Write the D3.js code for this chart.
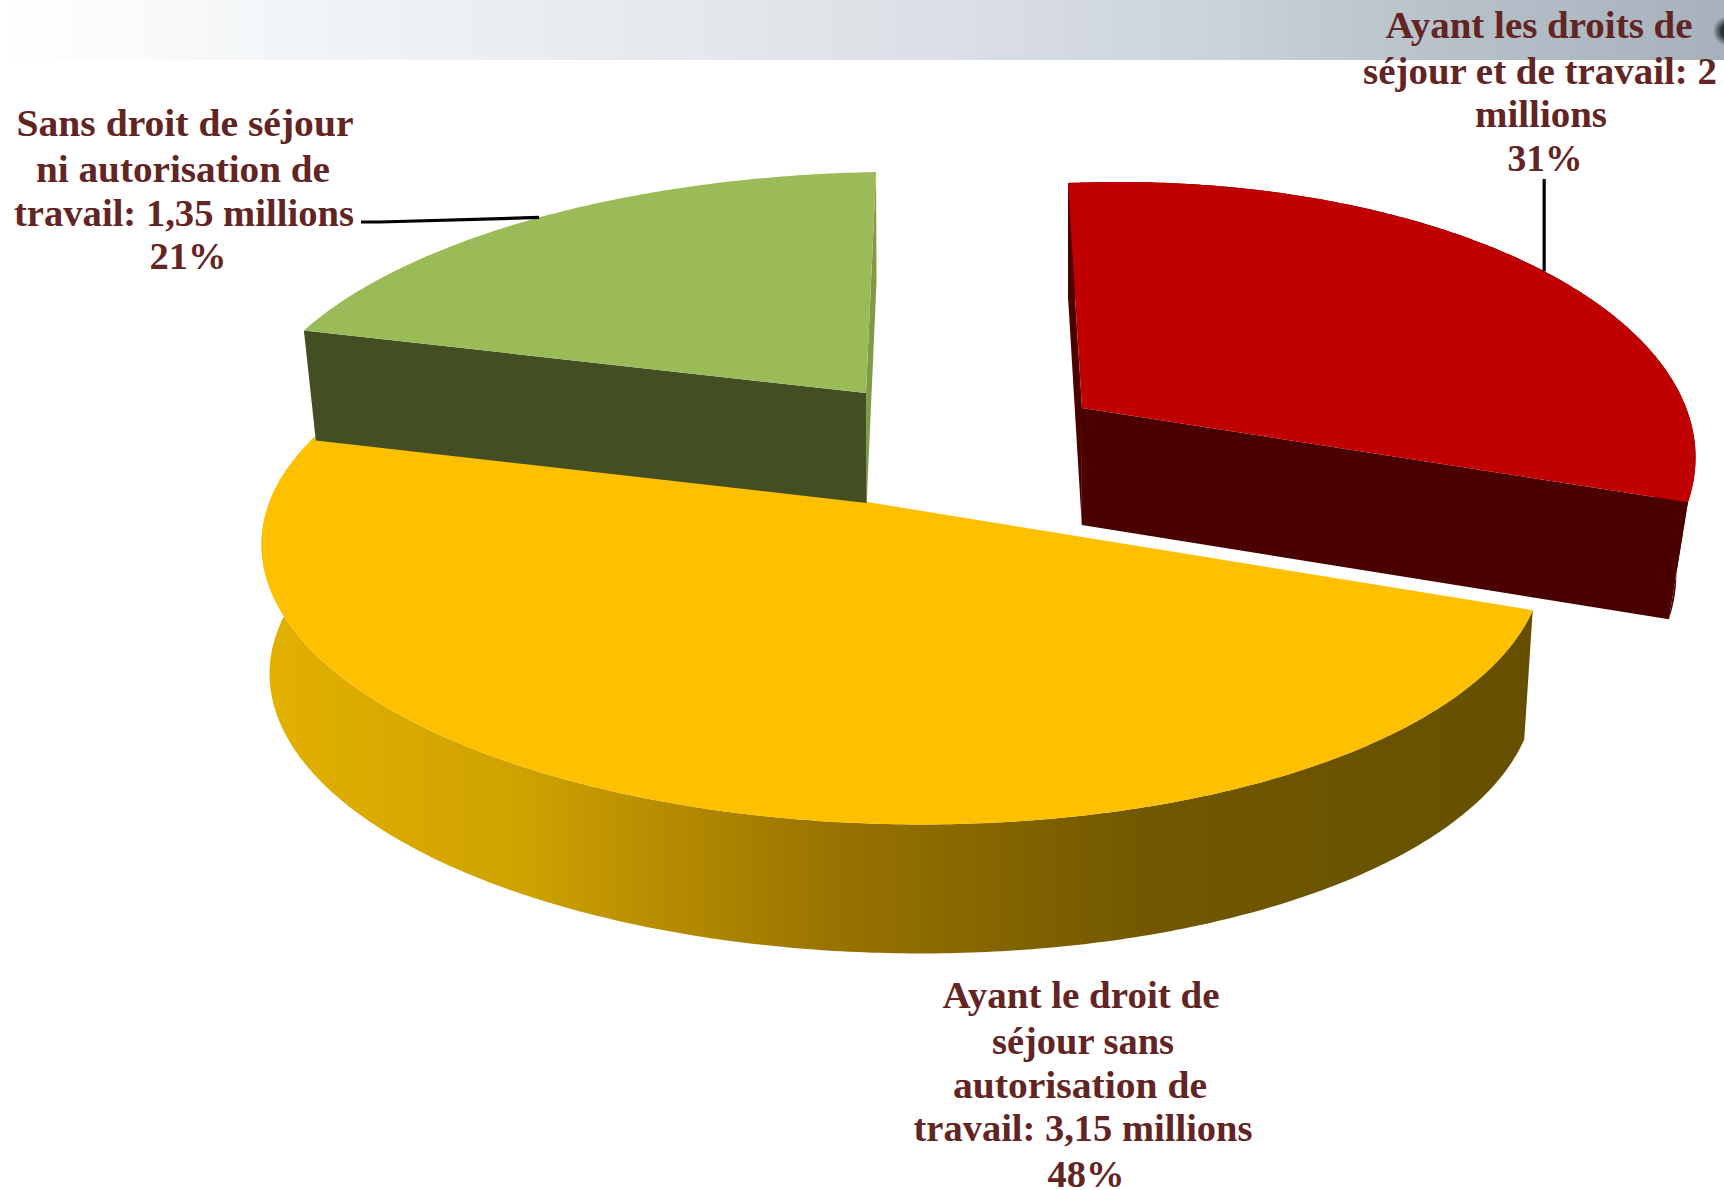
<!DOCTYPE html>
<html>
<head>
<meta charset="utf-8">
<script src="https://cdn.jsdelivr.net/npm/d3@7"></script>
<style>
  html, body { margin: 0; padding: 0; background: #fff; }
  svg { display: block; }
  text { font-family: "Liberation Serif", serif; font-weight: bold; fill: #632523; }
</style>
</head>
<body>
<div id="chart"></div>
<script>

// values in millions, same order as drawn clockwise from the top
const categories = ["droits de séjour et de travail", "droit de séjour sans autorisation", "sans droit de séjour"];
const values = [2, 3.15, 1.35];
const percents = ["31%", "48%", "21%"];

const labelLines = [
  ["Ayant les droits de", "séjour et de travail: 2", "millions", percents[0]],
  ["Ayant le droit de", "séjour sans", "autorisation de", "travail: 3,15 millions", percents[1]],
  ["Sans droit de séjour", "ni autorisation de", "travail: 1,35 millions", percents[2]],
];
const labelWidths = [
  [307, 354, 132, 75],
  [277, 182, 254, 339, 77],
  [337, 294, 340, 77],
];
const labelCenters = [
  [1539, 1540, 1541, 1545],
  [1081, 1083, 1080, 1083, 1086],
  [185, 183, 184, 188],
];
const labelBaselines = [
  [38, 84, 127, 171],
  [1008, 1054, 1098, 1141, 1187],
  [136, 182, 226, 269],
];

const WIDTH = 1724, HEIGHT = 1190;

// perspective of the tilted pie, one plane per slice (the slices were pulled apart)
const planes = [
  { apex: [1082, 408], g: -0.053, h: 0.1855, a: 567, b: -16.6, d: -12, e: -266.7, wall: 117, dropX: 1075, dropRate: 0.031 },
  { apex: [867, 502], g: -0.053, h: 0.1855, a: 628, b: -5, d: 3, e: -262, wall: 129, dropX: 880, dropRate: 0.013 },
  { apex: [866, 393], g: -0.053, h: 0.1855, a: 644, b: 11.9, d: 0, e: -262, wall: 110, dropX: 900, dropRate: 0.02 },
];
const topColors = ["#C00000", "#FFC000", "#9BBB59"];
const wallColors = ["#4B0000", "url(#yellow-wall)", "#434F23"];
const sideColors = ["#4B0000", "none", "#7E9B48"];

function project(plane, angle) {
  const u = Math.sin(angle), v = Math.cos(angle);
  const w = 1 + plane.g * u + plane.h * v;
  return [plane.apex[0] + (plane.a * u + plane.b * v) / w,
          plane.apex[1] + (plane.d * u + plane.e * v) / w];
}

function drop(plane, p) {
  return [p[0] + (plane.dropX - p[0]) * plane.dropRate, p[1] + plane.wall];
}

function rim(plane, start, end) {
  return d3.range(start, end, 0.01).concat([end]).map((a) => project(plane, a));
}

const slices = d3.pie().sort(null).startAngle(0).endAngle(2 * Math.PI)(values);
const line = d3.line();

const svg = d3.select('#chart').append('svg')
  .attr('width', WIDTH)
  .attr('height', HEIGHT);

const defs = svg.append('defs');

// banner across the top of the slide
const bannerStops = [[0, "#ffffff"], [0.17, "#f2f5f7"], [0.35, "#e8ebee"], [0.58, "#d9dde4"], [0.7, "#cbd3db"], [0.84, "#b6c1ca"], [1, "#a6b1bb"]];
const banner = defs.append('linearGradient').attr('id', 'banner');
banner.selectAll('stop').data(bannerStops).enter().append('stop')
  .attr('offset', d => d[0])
  .attr('stop-color', d => d[1]);

const wallStops = [[0, "#e2b000"], [0.2, "#cfa200"], [0.45, "#987300"], [0.7, "#715800"], [1, "#665000"]];
const yellowWall = defs.append('linearGradient').attr('id', 'yellow-wall')
  .attr('gradientUnits', 'userSpaceOnUse')
  .attr('x1', 270).attr('x2', 1525).attr('y1', 0).attr('y2', 0);
yellowWall.selectAll('stop').data(wallStops).enter().append('stop')
  .attr('offset', d => d[0])
  .attr('stop-color', d => d[1]);

const spot = defs.append('radialGradient').attr('id', 'spot');
spot.append('stop').attr('offset', 0.45).attr('stop-color', '#2b3036');
spot.append('stop').attr('offset', 1).attr('stop-color', '#2b3036').attr('stop-opacity', 0);

svg.append('rect')
  .attr('width', WIDTH)
  .attr('height', 60)
  .attr('fill', 'url(#banner)');

svg.append('circle')
  .attr('cx', 1728)
  .attr('cy', 31)
  .attr('r', 15)
  .attr('fill', 'url(#spot)');

// Pie
// ===

const drawSlice = (i) => {
  const s = slices[i];
  const plane = planes[i];
  const arc = rim(plane, s.startAngle, s.endAngle);
  const apex = plane.apex;
  const first = arc[0], last = arc[arc.length - 1];
  const g = svg.append('g').attr('class', 'slice');

  // outer wall hanging under the rim
  if (i < 2) {
    g.append('path')
      .attr('fill', wallColors[i])
      .attr('d', line(arc.concat(arc.map((p) => drop(plane, p)).reverse())) + 'Z');
  }
  // radial faces, the one seen from the front and the thin one at the side
  const frontEdge = i === 0 ? last : first;
  const sideEdge = i === 0 ? first : last;
  if (i !== 1) {
    g.append('path')
      .attr('fill', sideColors[i])
      .attr('d', line([apex, sideEdge, drop(plane, sideEdge), drop(plane, apex)]) + 'Z');
    g.append('path')
      .attr('fill', wallColors[i])
      .attr('d', line([apex, frontEdge, drop(plane, frontEdge), drop(plane, apex)]) + 'Z');
  }
  g.append('path')
    .attr('fill', topColors[i])
    .attr('d', line([apex].concat(arc)) + 'Z');
};

[1, 2, 0].forEach(drawSlice);

// Leaders
// =======

const redEnd = project(planes[0], slices[0].startAngle + 1.05);
const greenEnd = project(planes[2], slices[2].startAngle + 0.645);

svg.append('path')
  .attr('fill', 'none')
  .attr('stroke', '#000')
  .attr('stroke-width', 3.2)
  .attr('d', line([[redEnd[0], 179], redEnd]));

svg.append('path')
  .attr('fill', 'none')
  .attr('stroke', '#000')
  .attr('stroke-width', 3.2)
  .attr('d', line([[361, 222], [380, 222], greenEnd]));

// Labels
// ======

labelLines.forEach((lines, i) => {
  const label = svg.append('g').attr('class', 'label');
  lines.forEach((t, j) => {
    label.append('text')
      .attr('x', labelCenters[i][j])
      .attr('y', labelBaselines[i][j])
      .attr('text-anchor', 'middle')
      .attr('font-size', 38)
      .attr('textLength', labelWidths[i][j])
      .attr('lengthAdjust', 'spacingAndGlyphs')
      .text(t);
  });
});

</script>
</body>
</html>
